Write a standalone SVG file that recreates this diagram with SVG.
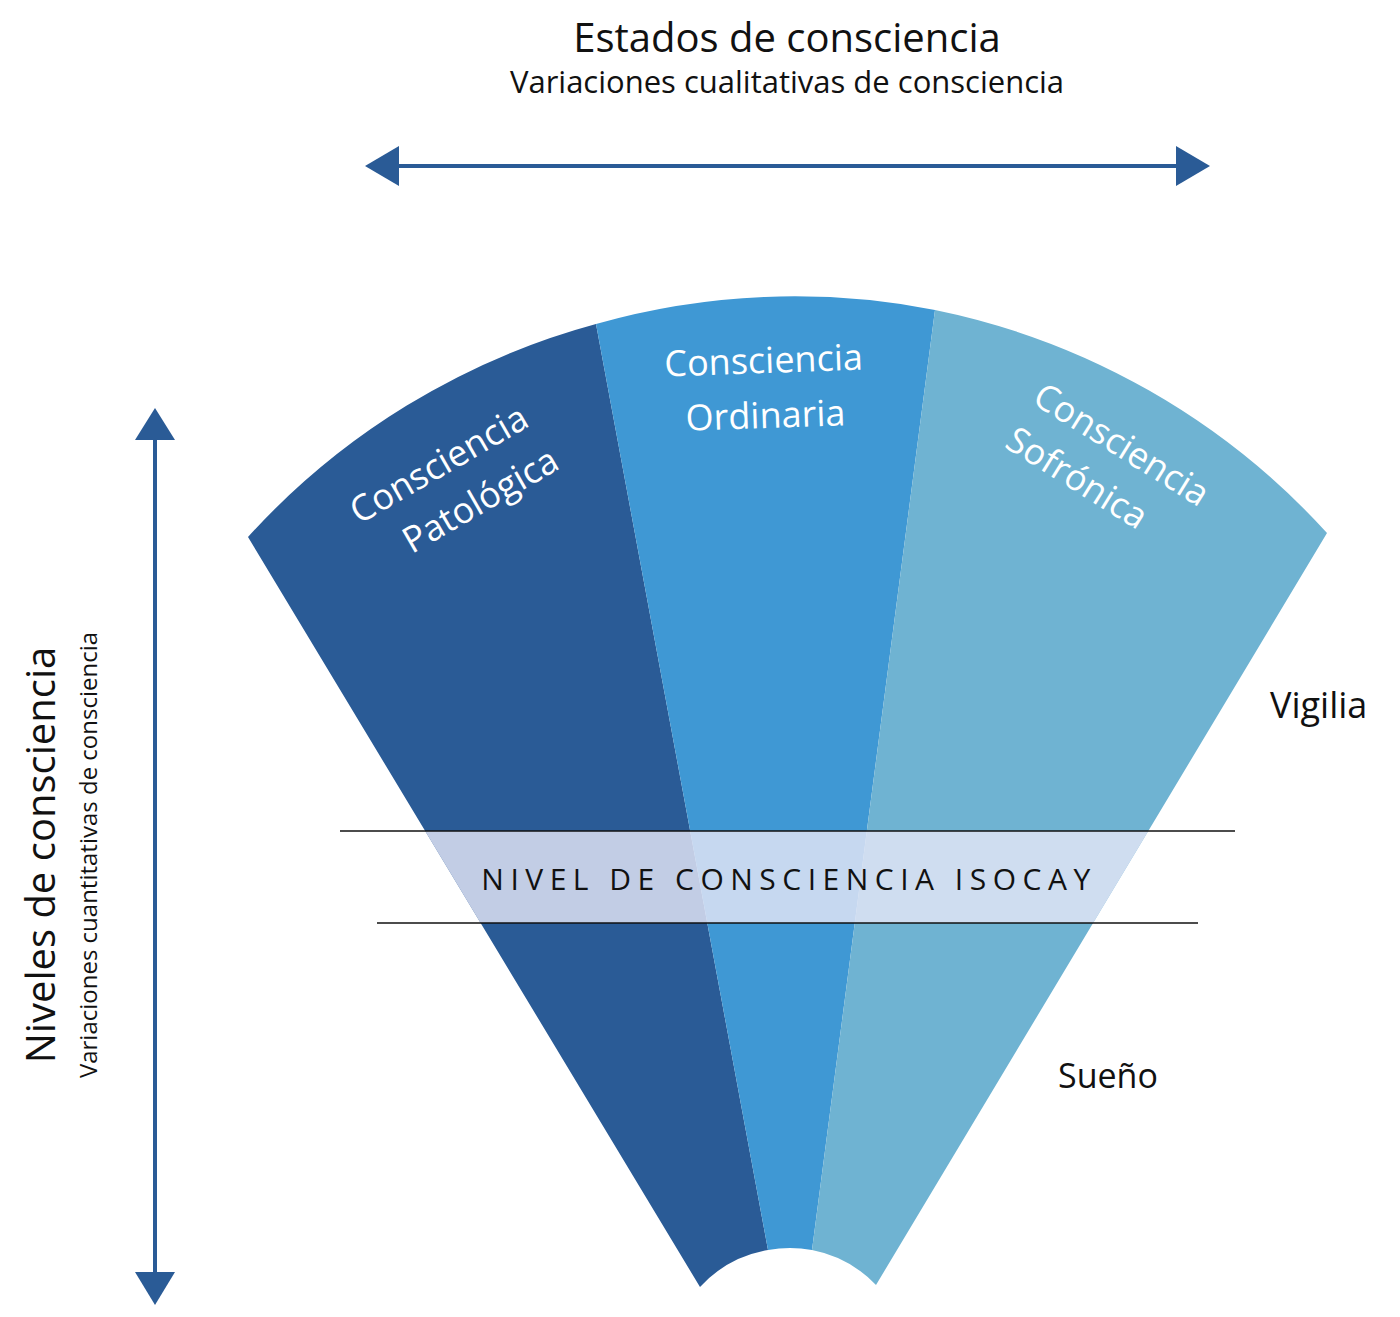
<svg xmlns="http://www.w3.org/2000/svg" width="1400" height="1317" viewBox="0 0 1400 1317">
<style>
text{font-family:"Open Sans","Liberation Sans",sans-serif;}
.blk{fill:#111;}
.wh{fill:#fff;font-size:36px;text-anchor:middle;}
.ln{stroke:#111;stroke-width:1.5;}
.ar{stroke:#2a5b96;stroke-width:4;fill:none;}
.hd{fill:#2a5b96;}
</style>
<defs>
<clipPath id="fan"><path d="M248,537 A727,727 0 0 1 1327,533 L876,1285 A119,119 0 0 0 700,1287 Z"/></clipPath>
</defs>
<rect width="1400" height="1317" fill="#fff"/>
<g id="title">
<text class="blk" x="787" y="52" font-size="40" text-anchor="middle">Estados de consciencia</text>
<text class="blk" x="787" y="93" font-size="31" text-anchor="middle">Variaciones cualitativas de consciencia</text>
</g>
<g id="connectors">
<line class="ar" x1="390" y1="166" x2="1185" y2="166"/>
<polygon class="hd" points="365,166 399,146 399,186"/>
<polygon class="hd" points="1210,166 1176,146 1176,186"/>
<line class="ar" x1="155" y1="430" x2="155" y2="1280"/>
<polygon class="hd" points="155,408 135,440 175,440"/>
<polygon class="hd" points="155,1305 135,1272 175,1272"/>
</g>
<g id="left-label">
<text class="blk" transform="translate(55,855) rotate(-90)" font-size="40" text-anchor="middle">Niveles de consciencia</text>
<text class="blk" transform="translate(97,855) rotate(-90)" font-size="24" text-anchor="middle">Variaciones cuantitativas de consciencia</text>
</g>
<g id="patologica">
<path fill="#2a5b96" d="M248,537 A727,727 0 0 1 596,324 L768,1250 A119,119 0 0 0 700,1287 Z"/>
<g transform="translate(445,475) rotate(-30)">
<text class="wh" x="0" y="0">Consciencia</text>
<text class="wh" x="18" y="52">Patológica</text>
</g>
</g>
<g id="ordinaria">
<path fill="#3f98d4" d="M596,324 A727,727 0 0 1 935,310 L812,1250 A119,119 0 0 0 768,1250 Z"/>
<g transform="translate(764,373) rotate(-2)">
<text class="wh" x="0" y="0">Consciencia</text>
<text class="wh" x="0" y="55">Ordinaria</text>
</g>
</g>
<g id="sofronica">
<path fill="#6fb3d2" d="M935,310 A727,727 0 0 1 1327,533 L876,1285 A119,119 0 0 0 812,1250 Z"/>
<g transform="translate(1115,455) rotate(32)">
<text class="wh" x="0" y="0">Consciencia</text>
<text class="wh" x="-20" y="52">Sofrónica</text>
</g>
</g>
<g id="isocay">
<rect x="200" y="831" width="1200" height="92" fill="#e4e6f6" opacity="0.82" clip-path="url(#fan)"/>
<line class="ln" x1="340" y1="831" x2="1235" y2="831"/>
<line class="ln" x1="377" y1="923" x2="1198" y2="923"/>
<text class="blk" x="789" y="890" font-size="30" text-anchor="middle" letter-spacing="6.5">NIVEL DE CONSCIENCIA ISOCAY</text>
</g>
<g id="vigilia"><text class="blk" x="1270" y="718" font-size="36">Vigilia</text></g>
<g id="sueno"><text class="blk" x="1058" y="1088" font-size="34">Sueño</text></g>
</svg>
